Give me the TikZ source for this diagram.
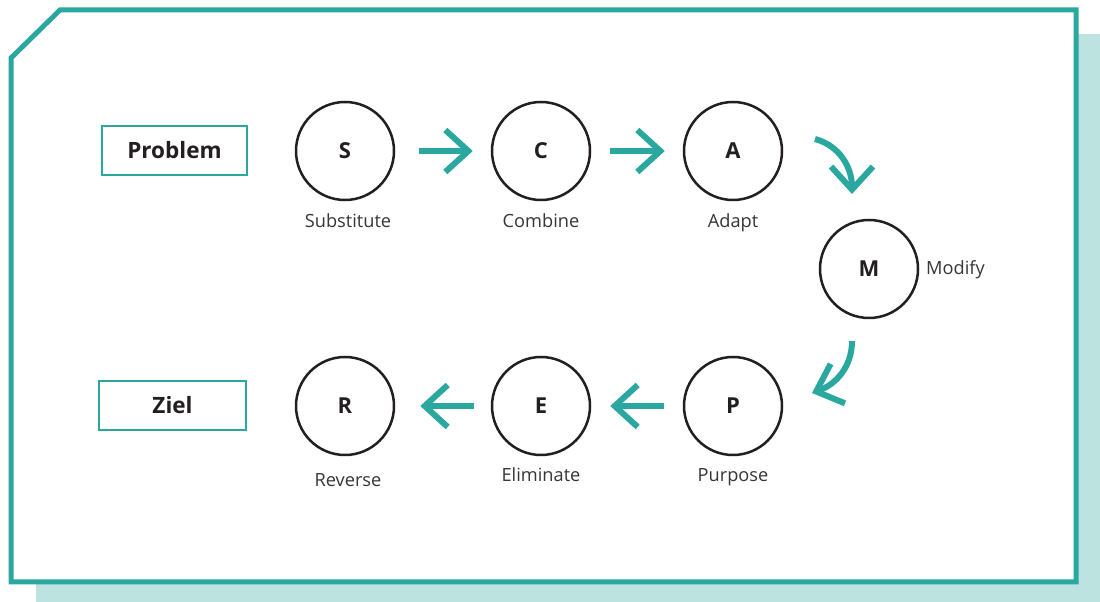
\documentclass[tikz,border=0pt]{standalone}
\usepackage{fontspec}
\setmainfont{Open Sans}
\usetikzlibrary{arrows.meta,calc}
\definecolor{teal1}{HTML}{2AA8A0}
\definecolor{shadowc}{HTML}{BDE3E1}
\definecolor{ink}{HTML}{231F20}
\begin{document}
\begin{tikzpicture}[x=1pt,y=1pt,
 stepc/.style={circle,draw=ink,line width=2.5pt,minimum size=98pt,inner sep=0pt,font=\fontsize{22}{26}\selectfont\bfseries,text=ink},
 endbox/.style={draw=teal1,line width=2pt,minimum height=49pt,inner sep=0pt,font=\fontsize{22.5}{27}\selectfont\bfseries,text=ink},
 lbl/.style={font=\fontsize{18.2}{22}\selectfont,text=ink!90,inner sep=0pt,anchor=base},
 flow/.style={draw=teal1,line width=6pt,-{Straight Barb[length=23pt,width=42pt]}},
]
\useasboundingbox (0,0) rectangle (1100,602);
\fill[shadowc] (36,0) rectangle (1100,568);
\draw[teal1,line width=5pt,fill=white] (11,20) -- (11,544) -- (60,592) -- (1076,592) -- (1076,20) -- cycle;

\node[endbox,minimum width=145pt] (prob) at (174.5,451.5) {Problem};
\node[endbox,minimum width=147pt] (ziel) at (172.5,196.5) {Ziel};

\node[stepc] (S) at (345,451) {S};
\node[stepc] (C) at (541,451) {C};
\node[stepc] (A) at (733,451) {A};
\node[stepc] (M) at (869,333) {M};
\node[stepc] (P) at (733,196) {P};
\node[stepc] (E) at (541,196) {E};
\node[stepc] (R) at (345,196) {R};

\node[lbl] (lS) at (348,374) {Substitute};
\node[lbl] (lC) at (541,374) {Combine};
\node[lbl] (lA) at (733,374) {Adapt};
\node[lbl,anchor=base west] (lM) at (926,327) {Modify};
\node[lbl] (lP) at (733,120) {Purpose};
\node[lbl] (lE) at (541,120) {Eliminate};
\node[lbl] (lR) at (348,115) {Reverse};

\draw[flow,shorten <=24pt,shorten >=18pt] (S) -- (C);
\draw[flow,shorten <=19pt,shorten >=18pt] (C) -- (A);
\draw[flow,shorten <=19pt,shorten >=19pt] (P) -- (E);
\draw[flow,shorten <=17pt,shorten >=25pt] (E) -- (R);
\draw[flow] ($(A)+(82,12)$) to[out=-15,in=90] ($(M)+(-17,75)$);
\draw[flow] ($(M)+(-17,-72)$) to[out=-90,in=20] ($(P)+(79,13)$);
\end{tikzpicture}
\end{document}
